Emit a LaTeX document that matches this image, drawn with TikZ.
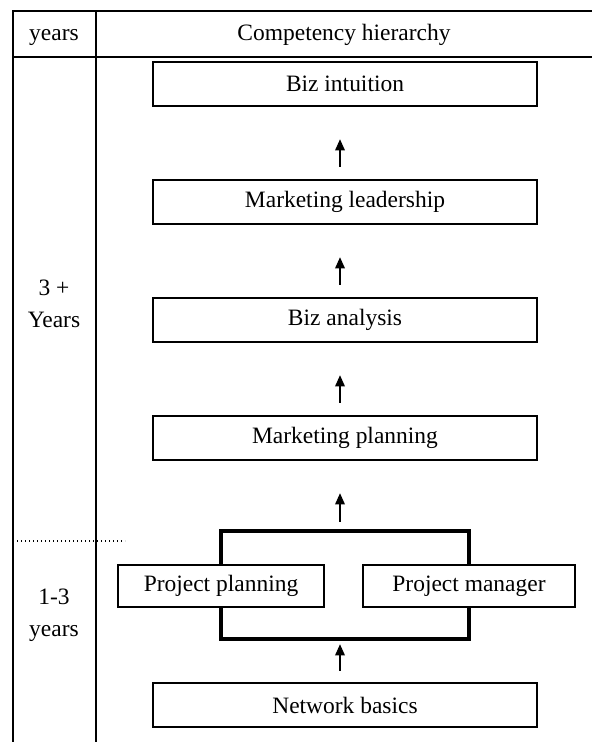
\documentclass[tikz,border=0pt]{standalone}
\usepackage{fontspec}
\setmainfont{Liberation Serif}
\usetikzlibrary{arrows.meta,calc}
\begin{document}
\begin{tikzpicture}[x=0.75pt,y=-0.75pt,
  font=\fontsize{17.6}{24}\selectfont,
  grid/.style={line width=1.6pt},
  box/.style={draw,line width=1.6pt,minimum height=33pt,inner sep=0pt},
  wide/.style={box,minimum width=288pt},
  arr/.style={line width=1.7pt,-{Triangle[length=8.5pt,width=7pt]}},
  brk/.style={line width=3.2pt}]
\useasboundingbox (0,0) rectangle (592,742);
% table lines
\draw[grid] (13,742) -- (13,11) -- (592,11);
\draw[grid] (13,57) -- (592,57);
\draw[grid] (96,11) -- (96,742);
\draw[dotted,line width=1pt] (13,541) -- (125,541);
% headers and year labels
\node[anchor=base] (hy) at (54,41) {years};
\node[anchor=base] (hc) at (344,41) {Competency hierarchy};
\node[align=center] (l3) at (54,304) {3 +\\Years};
\node[align=center] (l1) at (54,615) {1-3\\years};
% boxes
\node[wide] (bi) at (345,84) {Biz intuition};
\node[wide] (ml) at (345,202) {Marketing leadership};
\node[wide] (ba) at (345,320) {Biz analysis};
\node[wide] (mp) at (345,438) {Marketing planning};
\node[box,minimum width=154.5pt,minimum height=31.5pt] (pp) at (221,586) {Project planning};
\node[box,minimum width=159pt,minimum height=31.5pt] (pm) at (469,586) {Project manager};
\node[wide] (nb) at (345,705) {Network basics};
% bracket
\draw[brk] (pp.north) -- ++(0,-33) coordinate (btl) -| (pm.north);
\draw[brk] (pp.south) -- ++(0,31) coordinate (bbl) -| (pm.south);
\coordinate (bt) at ($(btl)+(124,0)$);
\coordinate (bb) at ($(bbl)+(124,0)$);
% arrows
\draw[arr] ($(ml.north)+(-5,-12)$) -- ($(bi.south)+(-5,32)$);
\draw[arr] ($(ba.north)+(-5,-12)$) -- ($(ml.south)+(-5,32)$);
\draw[arr] ($(mp.north)+(-5,-12)$) -- ($(ba.south)+(-5,32)$);
\draw[arr] ($(bt)+(-5,-9)$) -- ($(mp.south)+(-5,32)$);
\draw[arr] ($(nb.north)+(-5,-11)$) -- ($(bb)+(-5,5)$);
\end{tikzpicture}
\end{document}
